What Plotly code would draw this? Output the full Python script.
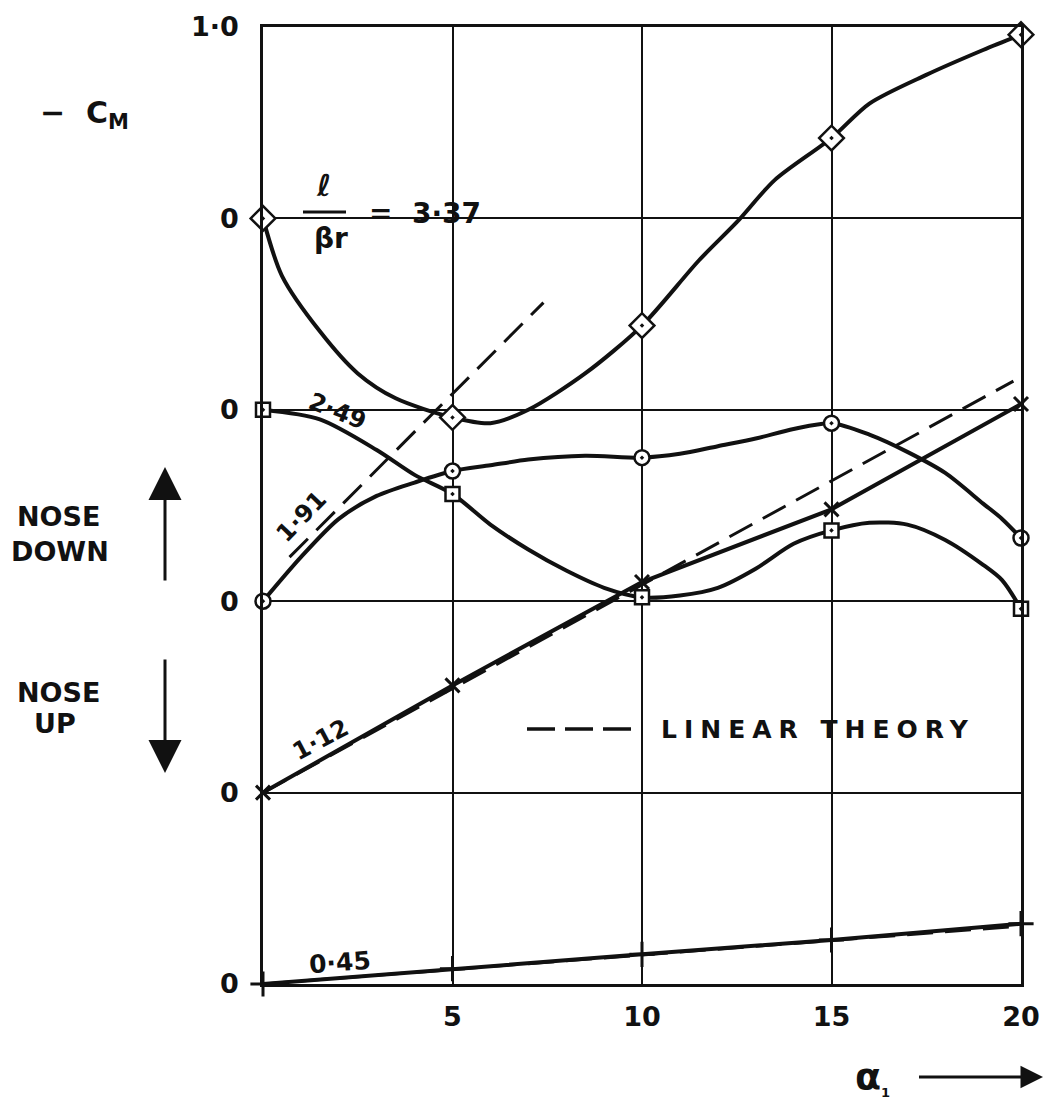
import plotly.graph_objects as go

# ---------------- data ----------------
# each curve is plotted on its own staggered zero line (offset in grid units)
alpha_marks = [0, 5, 10, 15, 20]

# l/(beta r) = 3.37  (diamonds)
a337 = [0, 0.5, 1.5, 2.5, 3.5, 5, 6, 7, 8.5, 10, 11.5, 12.5, 13.5, 15, 16, 17.5, 19, 20]
v337 = [0, -0.30, -0.59, -0.81, -0.94, -1.04, -1.07, -1.00, -0.81, -0.56, -0.22, -0.02, 0.20, 0.42, 0.60, 0.75, 0.88, 0.96]
m337 = [0, -1.04, -0.56, 0.42, 0.96]

# 2.49 (squares)
a249 = [0, 1.5, 3, 4, 5, 6, 7, 8, 9, 10, 11, 12, 13, 14, 15, 16, 17, 18, 19, 19.5, 20]
v249 = [0, -0.05, -0.21, -0.34, -0.44, -0.60, -0.73, -0.84, -0.93, -0.98, -0.97, -0.93, -0.83, -0.70, -0.63, -0.59, -0.60, -0.68, -0.81, -0.89, -1.04]
m249 = [0, -0.44, -0.98, -0.63, -1.04]

# 1.91 (circles)
a191 = [0, 1, 2, 3, 4, 5, 6, 7, 8.5, 10, 11, 12, 13, 14, 15, 16, 17, 18, 19, 19.5, 20]
v191 = [0, 0.23, 0.43, 0.55, 0.62, 0.68, 0.71, 0.74, 0.76, 0.75, 0.77, 0.81, 0.85, 0.90, 0.93, 0.87, 0.78, 0.67, 0.51, 0.43, 0.33]
m191 = [0, 0.68, 0.75, 0.93, 0.33]

# 1.12 (crosses x)
v112 = [0, 0.56, 1.10, 1.48, 2.03]
# 0.45 (plus)
v045 = [0, 0.08, 0.155, 0.23, 0.315]

# linear theory (dashed)
th191_a = [0.7, 7.4]
th191_v = [0.23, 1.56]
th112_a = [0, 19.8]
th112_v = [0, 2.15]
th045_a = [0, 19.8]
th045_v = [0, 0.30]

offsets = {"3.37": 4, "2.49": 3, "1.91": 2, "1.12": 1, "0.45": 0}

x_ticks = [5, 10, 15, 20]
x_ticktext = ["5", "10", "15", "20"]
y_ticks = [0, 1, 2, 3, 4, 5]
y_ticktext = ["0", "0", "0", "0", "0", "1·0"]

# ---------------- figure ----------------
W, H = 1052, 1100
ML, MR, MT, MB = 263, 31, 27, 116
PW, PH = W - ML - MR, H - MT - MB


def PX(x):
    return (x - ML) / PW


def PY(y):
    return (MT + PH - y) / PH


FONT = "DejaVu Sans"
BLACK = "#111111"
LW = 4


def shift(vals, key):
    return [v + offsets[key] for v in vals]


fig = go.Figure()


def add_curve(a, v, key, shape):
    fig.add_trace(go.Scatter(x=a, y=shift(v, key), mode="lines",
                             line=dict(color=BLACK, width=LW, shape=shape, smoothing=0.8),
                             cliponaxis=False, showlegend=False, hoverinfo="skip"))


def add_theory(a, v, key):
    fig.add_trace(go.Scatter(x=a, y=shift(v, key), mode="lines",
                             line=dict(color=BLACK, width=3, dash="26px,12px"),
                             cliponaxis=False, showlegend=False, hoverinfo="skip"))


def add_marks(v, key, symbol, size, fill="white", lw=2.5):
    fig.add_trace(go.Scatter(x=alpha_marks, y=shift(v, key), mode="markers",
                             marker=dict(symbol=symbol, size=size, color=fill,
                                         line=dict(color=BLACK, width=lw)),
                             cliponaxis=False, showlegend=False, hoverinfo="skip"))


add_theory(th191_a, th191_v, "1.91")
add_theory(th112_a, th112_v, "1.12")
add_theory(th045_a, th045_v, "0.45")

add_curve(a337, v337, "3.37", "spline")
add_curve(a249, v249, "2.49", "spline")
add_curve(a191, v191, "1.91", "spline")
add_curve(alpha_marks, v112, "1.12", "linear")
add_curve(alpha_marks, v045, "0.45", "linear")

add_marks(m337, "3.37", "diamond-dot", 19)
add_marks(m249, "2.49", "square-dot", 14)
add_marks(m191, "1.91", "circle-dot", 15)
add_marks(v112, "1.12", "x-thin", 14, fill=BLACK, lw=3)
add_marks(v045, "0.45", "cross-thin", 18, fill=BLACK, lw=3)

# white boxes that break the grid lines around the hand lettering
shapes = []
for (x0, y0, x1, y1) in [(287, 177, 505, 240), (287, 395, 376, 425), (515, 702, 990, 757)]:
    shapes.append(dict(type="rect", xref="paper", yref="paper", layer="between",
                       x0=PX(x0), x1=PX(x1), y0=PY(y1), y1=PY(y0),
                       fillcolor="white", line=dict(width=0)))
# legend sample dashes
shapes.append(dict(type="line", xref="paper", yref="paper", layer="above",
                   x0=PX(527), x1=PX(631), y0=PY(729), y1=PY(729),
                   line=dict(color=BLACK, width=3.5, dash="28px,10px")))
# fraction bar of l / (beta r)
shapes.append(dict(type="line", xref="paper", yref="paper", layer="above",
                   x0=PX(303), x1=PX(346), y0=PY(212), y1=PY(212),
                   line=dict(color=BLACK, width=3)))

ann = []


def txt(text, x, y, size, angle=0, xanchor="center", weight="bold"):
    ann.append(dict(text=text, x=PX(x), y=PY(y), xref="paper", yref="paper",
                    showarrow=False, textangle=angle, xanchor=xanchor, yanchor="middle",
                    font=dict(family=FONT, size=size, color=BLACK, weight=weight)))


def arrow(xh, yh, ax, ay, head=2, size=2.2, width=2.5):
    ann.append(dict(text="", x=PX(xh), y=PY(yh), xref="paper", yref="paper",
                    showarrow=True, ax=ax, ay=ay, arrowhead=head, arrowsize=size,
                    arrowwidth=width, arrowcolor=BLACK, standoff=0, startstandoff=0))


txt("−  C<sub>M</sub>", 84, 114, 30)
txt("NOSE", 58, 516, 27)
txt("DOWN", 60, 551, 27)
txt("NOSE", 58, 692, 27)
txt("UP", 55, 723, 27)
arrow(165, 467, 0, 115, width=3)
arrow(165, 773, 0, -115, width=3)

txt("ℓ", 323, 186, 30)
txt("βr", 331, 238, 28)
txt("=  3·37", 425, 213, 28)
txt("2·49", 337, 411, 24, angle=22)
txt("1·91", 301, 517, 24, angle=-46)
txt("1·12", 320, 740, 24, angle=-28)
txt("0·45", 340, 962, 25, angle=-4)
txt("<span style='letter-spacing:7px'>LINEAR THEORY</span>", 659, 729, 25, xanchor="left")

# alpha_1 label with its arrow
ann.append(dict(text="α<sub><span style='font-size:13px'>1</span></sub>",
                x=PX(1043), y=PY(1077), xref="paper", yref="paper",
                showarrow=True, ax=-171, ay=0, arrowhead=2, arrowsize=1.5,
                arrowwidth=3, arrowcolor=BLACK, standoff=0, startstandoff=28,
                font=dict(family=FONT, size=38, color=BLACK, weight="bold")))

axis_common = dict(showline=True, mirror=True, linecolor=BLACK, linewidth=2.5,
                   showgrid=True, gridcolor=BLACK, gridwidth=2, zeroline=False,
                   ticks="outside", tickcolor="rgba(0,0,0,0)",
                   tickfont=dict(family=FONT, size=27, color=BLACK, weight="bold"))

fig.update_layout(
    width=W, height=H,
    margin=dict(l=ML, r=MR, t=MT, b=MB, pad=0),
    paper_bgcolor="white", plot_bgcolor="white",
    showlegend=False,
    xaxis=dict(range=[0, 20], tickvals=x_ticks, ticktext=x_ticktext, ticklen=7, **axis_common),
    yaxis=dict(range=[0, 5], tickvals=y_ticks, ticktext=y_ticktext, ticklen=16, **axis_common),
    shapes=shapes,
    annotations=ann,
)

fig.write_html("out.html")
